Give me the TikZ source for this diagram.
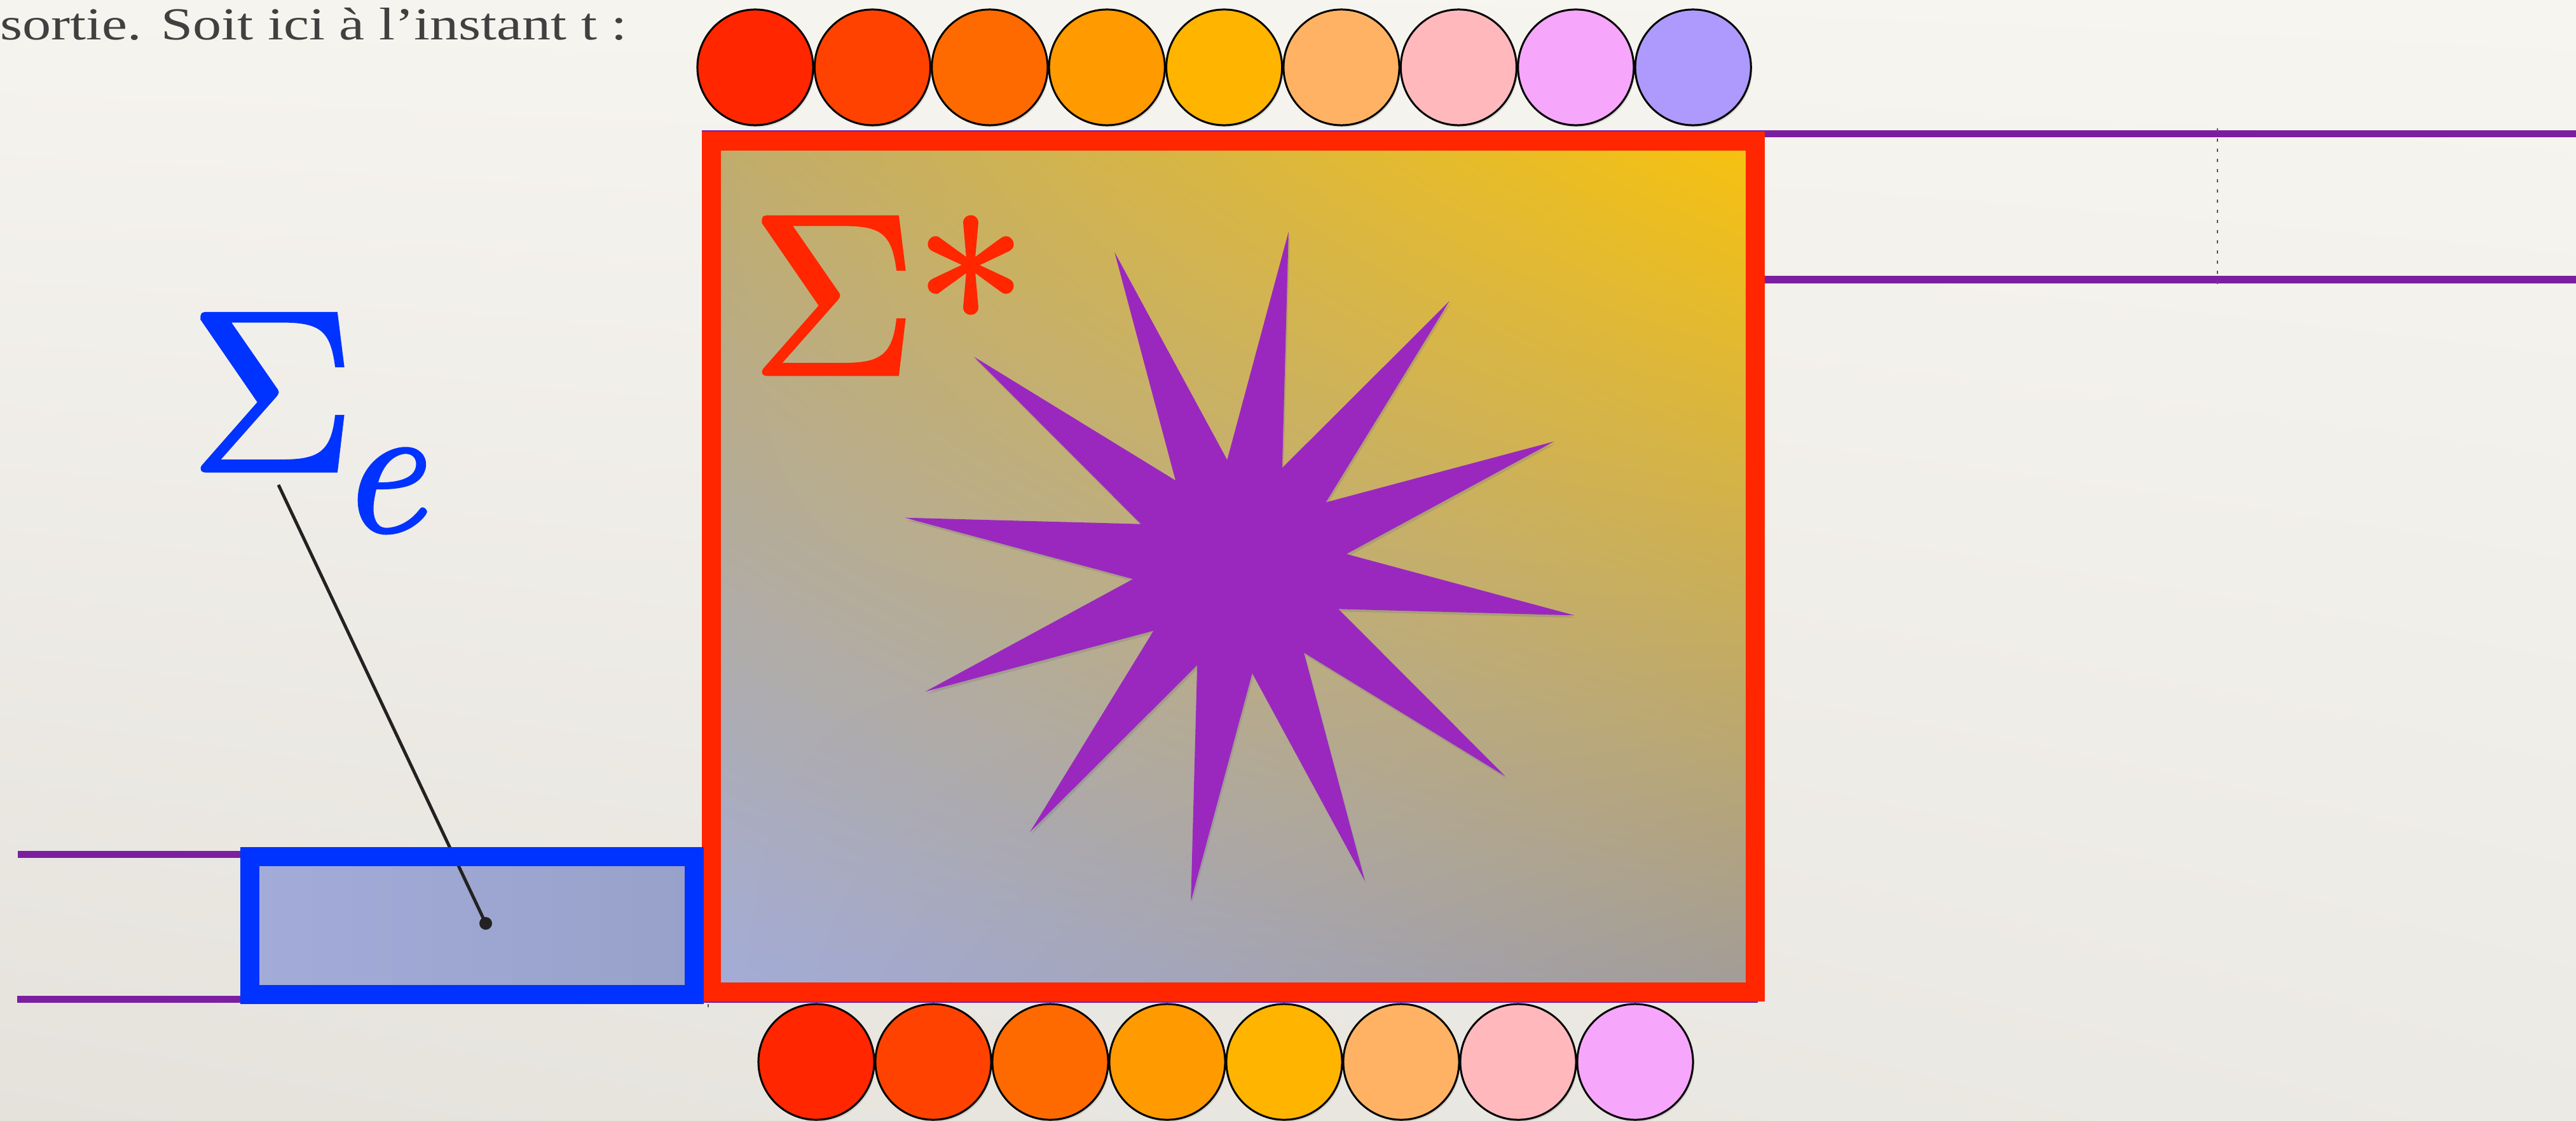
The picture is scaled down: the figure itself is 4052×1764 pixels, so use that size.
\documentclass[tikz,border=0pt]{standalone}
\usepackage{fontspec}
\newfontfamily\glyphs{lmroman10-regular.otf}[ItalicFont=lmroman10-italic.otf, FakeBold=1.5]
\newfontfamily\prose{Liberation Serif}
\usetikzlibrary{shapes.geometric,shadows,shadings}
\definecolor{paper}{HTML}{F6F4EF}
\definecolor{paperright}{HTML}{F7F5F0}
\definecolor{paperdark}{HTML}{E5E2DC}
\definecolor{papermid}{HTML}{ECEAE4}
\definecolor{ink}{HTML}{404040}
\definecolor{tube}{HTML}{7B1FA0}
\definecolor{gauge}{HTML}{4B5E43}
\definecolor{frame}{HTML}{FF2600}
\definecolor{inlet}{HTML}{0033FF}
\definecolor{inletleft}{HTML}{A3ACD9}
\definecolor{inletright}{HTML}{98A1C9}
\definecolor{tan}{HTML}{C0AC6C}
\definecolor{ash}{HTML}{A29C98}
\definecolor{gold}{HTML}{F7C20E}
\definecolor{spark}{HTML}{9A28BF}
\definecolor{wire}{HTML}{222222}
\definecolor{bead1}{HTML}{FF2600}
\definecolor{bead2}{HTML}{FF4200}
\definecolor{bead3}{HTML}{FF6A00}
\definecolor{bead4}{HTML}{FF9A00}
\definecolor{bead5}{HTML}{FFB400}
\definecolor{bead6}{HTML}{FFB263}
\definecolor{bead7}{HTML}{FFB9BC}
\definecolor{bead8}{HTML}{F6A6FB}
\definecolor{bead9}{HTML}{AE9AFC}

\begin{document}
\begin{tikzpicture}[x=0.01cm, y=-0.01cm,
  pipe/.style={draw=tube, line width=0.11cm},
  marker/.style={draw=gauge, line width=0.025cm, dash pattern=on 0.05cm off 0.11cm},
  bead/.style={circle, draw=black, line width=0.03cm, minimum size=1.82cm, inner sep=0pt,
    drop shadow={opacity=.25, shadow xshift=0.02cm, shadow yshift=-0.03cm}},
  greek/.style={inner sep=0pt, anchor=base west, font=\glyphs\fontsize{103}{103}\selectfont}]
  % parchment backdrop fixes the page size
  \shade[upper left=paper, upper right=paperright, lower left=paperdark, lower right=papermid]
    (0,0) rectangle (4052,1764);
  \useasboundingbox (0,0) rectangle (4052,1764);

  \node[anchor=base west, inner sep=0pt, text=ink, font=\prose\fontsize{20.5}{20.5}\selectfont] (intro)
    at (0,63) {\scalebox{1.25}[1]{sortie. Soit ici à l’instant t :}};

  % pipes and gauge marks sit behind the boxes
  \draw[pipe] (1104,211) -- (4052,211);
  \draw[pipe] (2775,440) -- (4052,440);
  \draw[pipe] (28,1344) -- (379,1344);
  \draw[pipe] (27,1572) -- (2765,1572);
  \draw[marker] (3488,202) -- (3488,447);
  \draw[marker] (1114,1340) -- (1114,1585);

  \node[minimum width=6.97cm, minimum height=2.15cm, left color=inletleft, right color=inletright]
    (inbox) at (742.5,1456.5) {};
  \node[draw=frame, line width=0.3cm, minimum width=16.41cm, minimum height=13.39cm,
    upper left=tan, upper right=gold, lower left=inletleft, lower right=ash]
    (machine) at (1939.5,891.5) {};
  \node[greek, text=frame] (closure) at (1180,589)
    {Σ\hspace{-0.03cm}\raisebox{-0.16cm}{\fontsize{100}{100}\selectfont *}};
  \node[star, star points=12, star point ratio=3.15, minimum size=10.64cm, inner sep=0pt,
    fill=spark, shape border rotate=-8.3,
    drop shadow={opacity=.35, shadow xshift=0.02cm, shadow yshift=-0.04cm}] (burst) at (1950,891.5) {};

  \foreach \col [count=\i] in {bead1,bead2,bead3,bead4,bead5,bead6,bead7,bead8,bead9}
    \node[bead, fill=\col] (top\i) at ({1188+184.4*(\i-1)},106) {};
  \foreach \col [count=\i] in {bead1,bead2,bead3,bead4,bead5,bead6,bead7,bead8}
    \node[bead, fill=\col] (low\i) at ({1284+184*(\i-1)},1671) {};

  % label for the input buffer
  \node[greek, text=inlet] (alphabet) at (297,741)
    {Σ\hspace{-0.28cm}\raisebox{-0.95cm}{\fontsize{84}{84}\selectfont\itshape e}};
  \coordinate (lead) at (438,763);
  \coordinate (dot) at (764,1453);
  \draw[wire, line width=0.05cm] (dot) -- (lead);
  \fill[wire] (dot) circle[radius=0.1cm];
  \draw[inlet, line width=0.3cm] (inbox.south west) rectangle (inbox.north east);
\end{tikzpicture}
\end{document}
